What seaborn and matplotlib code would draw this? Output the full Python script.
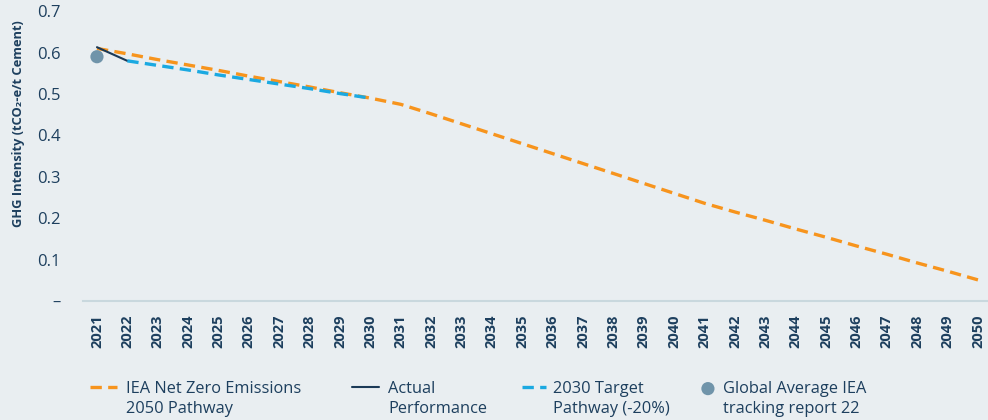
import seaborn as sns
import matplotlib.pyplot as plt
import pandas as pd

years = list(range(2021, 2051))
iea_nze = [0.610, 0.597, 0.583, 0.570, 0.557, 0.543, 0.530, 0.517, 0.503, 0.490,
           0.475, 0.452, 0.428, 0.404, 0.380, 0.356, 0.332, 0.308, 0.284, 0.260,
           0.236, 0.215, 0.195, 0.174, 0.154, 0.133, 0.113, 0.092, 0.072, 0.051]
actual_years = [2021, 2022]
actual = [0.613, 0.580]
target_years = list(range(2022, 2031))
target = [0.580, 0.569, 0.558, 0.546, 0.535, 0.524, 0.513, 0.501, 0.490]
global_year = [2021]
global_avg = [0.59]

labels = [("IEA Net Zero Emissions", "2050 Pathway"), ("Actual", "Performance"),
          ("2030 Target", "Pathway (-20%)"), ("Global Average IEA", "tracking report 22")]

bg = "#E9EEF1"
txt = "#1D3F5E"
orange = "#F7941D"
blue = "#1BA9E1"
navy = "#1B3A57"
dot = "#7094AA"

sns.set_theme(style="white")
plt.rcParams['font.family'] = ['Open Sans', 'DejaVu Sans']

df_iea = pd.DataFrame({"Year": years, "Value": iea_nze})
df_act = pd.DataFrame({"Year": actual_years, "Value": actual})
df_tgt = pd.DataFrame({"Year": target_years, "Value": target})
df_glb = pd.DataFrame({"Year": global_year, "Value": global_avg})

fig = plt.figure(figsize=(9.88, 4.2), dpi=100, facecolor=bg)
ax = fig.add_axes([0.084, 0.2833, 0.916, 0.7167])
ax.set_facecolor(bg)

sns.lineplot(data=df_iea, x="Year", y="Value", ax=ax, color=orange, lw=2.4,
             linestyle=(0, (3.4, 1.9)), label=labels[0][0], legend=False)
sns.lineplot(data=df_act, x="Year", y="Value", ax=ax, color=navy, lw=1.5,
             label=labels[1][0], legend=False)
sns.lineplot(data=df_tgt, x="Year", y="Value", ax=ax, color=blue, lw=2.4,
             linestyle=(0, (3.4, 1.9)), label=labels[2][0], legend=False)
sns.scatterplot(data=df_glb, x="Year", y="Value", ax=ax, color=dot, s=90,
                edgecolor="none", label=labels[3][0], legend=False, zorder=5)

ax.set_xlim(2020.54, 2050.33)
ax.set_ylim(0, 0.727)
ax.set_xticks(years)
ax.set_xticklabels([str(y) for y in years], rotation=90, fontsize=10.5,
                   fontweight="bold", color=txt)
ax.set_yticks([0, 0.1, 0.2, 0.3, 0.4, 0.5, 0.6, 0.7])
ax.set_yticklabels(["–", "0.1", "0.2", "0.3", "0.4", "0.5", "0.6", "0.7"],
                   fontsize=12, color=txt)
ax.tick_params(axis="y", length=0, pad=16)
ax.tick_params(axis="x", length=0, pad=10)
ax.set_xlabel("")
ax.set_ylabel("GHG Intensity (tCO₂-e/t Cement)", fontsize=9.3, fontweight="bold",
              color=txt)
ax.yaxis.set_label_coords(-0.064, 0.588)
for s in ["top", "right", "left"]:
    ax.spines[s].set_visible(False)
ax.spines["bottom"].set_color("#C9D8DE")
ax.spines["bottom"].set_linewidth(1.5)

# legend: handle sits on the first line, second line added underneath
handles, _ = ax.get_legend_handles_labels()
xpos = [0.0845, 0.3497, 0.5218, 0.7016]
hlen = [1.65, 1.65, 1.45, 1.0]
hpad = [0.55, 0.55, 0.45, 0.4]
legs = []
for h, lab, x, hl, hp in zip(handles, labels, xpos, hlen, hpad):
    lg = fig.legend([h], [lab[0]], loc="center left", bbox_to_anchor=(x, 0.074),
                    frameon=False, fontsize=11.8, handlelength=hl, handletextpad=hp,
                    labelcolor=txt, borderaxespad=0)
    legs.append(lg)

fig.canvas.draw()
for lg, lab in zip(legs, labels):
    bb = lg.get_texts()[0].get_window_extent()
    fig.text(bb.x0 / fig.bbox.width, 0.026, lab[1], fontsize=11.8, color=txt,
             ha="left", va="center")

fig.savefig("out.png", dpi=100, facecolor=bg)
